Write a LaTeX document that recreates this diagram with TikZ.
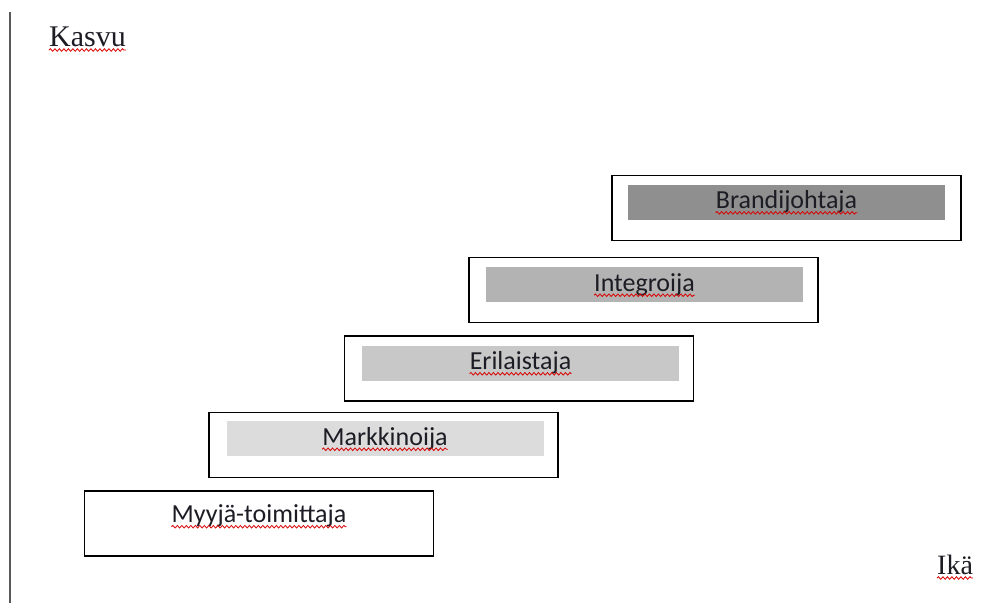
\documentclass[tikz,border=0pt]{standalone}
\usepackage{fontspec}
\newfontfamily\boxfont{Carlito}
\newfontfamily\axfont{Liberation Serif}
\usetikzlibrary{decorations.pathmorphing}
\definecolor{shadeA}{HTML}{8F8F8F}
\definecolor{shadeB}{HTML}{B3B3B3}
\definecolor{shadeC}{HTML}{C8C8C8}
\definecolor{shadeD}{HTML}{DCDCDC}
\definecolor{inkdark}{HTML}{1C1C24}
\tikzset{
  stagebox/.style={draw=black, line width=1.8pt, minimum width=349pt, minimum height=65pt, inner sep=0pt},
  stagefill/.style={minimum width=317pt, minimum height=35pt, inner sep=0pt},
  stagetext/.style={inner sep=0pt, text=inkdark, font=\boxfont\fontsize{26}{30}\selectfont},
  axistext/.style={inner sep=0pt, text=inkdark, font=\axfont\fontsize{28}{32}\selectfont},
  axisline/.style={draw=black!65, line width=2.2pt},
  squiggle/.style={draw=red!85!black, line width=0.8pt,
    decorate, decoration={snake, amplitude=1.3pt, segment length=4.5pt}},
}
\newcommand{\wavyunder}[1]{%
  \draw[squiggle] ([yshift=-4pt]#1.base west) -- ([yshift=-4pt]#1.base east);}
\begin{document}
\begin{tikzpicture}[x=1pt, y=-1pt]
  \useasboundingbox[fill=white] (0,0) rectangle (995,603);

  % vertical axis
  \coordinate (axtop) at (10,12);
  \coordinate (axbot) at (10,603);
  \draw[axisline] (axtop) -- (axbot);

  % axis labels
  \node[axistext, font=\axfont\fontsize{30}{34}\selectfont, anchor=base west] (kasvu) at (49,46) {Kasvu};
  \node[axistext, anchor=base west] (ika) at (937,574) {Ikä};

  % stages, bottom-left to top-right
  \node[stagebox] (myO) at (259,523.5) {};
  \node[stagetext] (myT) at (259,516) {Myyjä-toimittaja};

  \node[stagebox] (maO) at (383.5,445) {};
  \node[stagefill, fill=shadeD] (maF) at (385,438.5) {};
  \node[stagetext] (maT) at (maF) {Markkinoija};

  \node[stagebox] (erO) at (519,368.5) {};
  \node[stagefill, fill=shadeC] (erF) at (520.5,363) {};
  \node[stagetext] (erT) at (erF) {Erilaistaja};

  \node[stagebox] (inO) at (643.5,290) {};
  \node[stagefill, fill=shadeB] (inF) at (644.5,284.5) {};
  \node[stagetext] (inT) at (inF) {Integroija};

  \node[stagebox] (brO) at (786.5,208) {};
  \node[stagefill, fill=shadeA] (brF) at (786.5,202) {};
  \node[stagetext] (brT) at (brF) {Brandijohtaja};

  % spell-check underlines
  \wavyunder{kasvu}
  \wavyunder{ika}
  \wavyunder{myT}
  \wavyunder{maT}
  \wavyunder{erT}
  \wavyunder{inT}
  \wavyunder{brT}
\end{tikzpicture}
\end{document}
